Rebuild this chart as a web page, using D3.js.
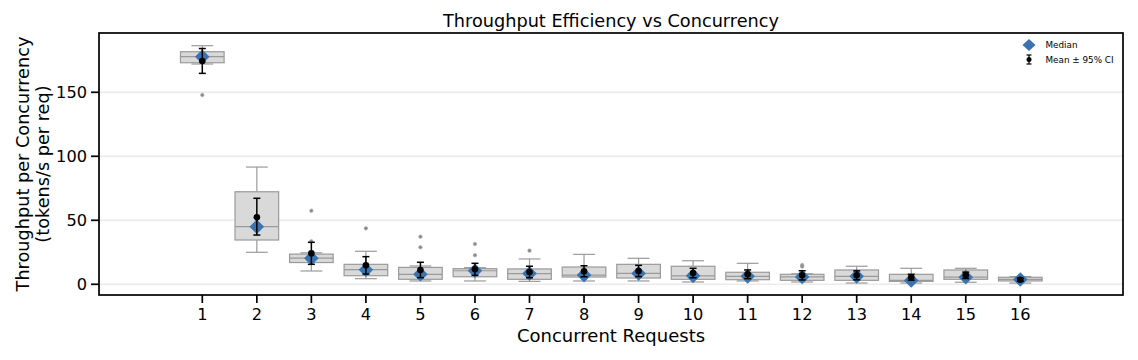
<!DOCTYPE html>
<html><head><meta charset="utf-8">
<script src="https://cdn.jsdelivr.net/npm/d3@7/dist/d3.min.js"></script>
<style>body{margin:0;background:#fff;}svg{display:block;font-family:"DejaVu Sans",sans-serif;}</style>
</head><body>
<svg id="c" width="1138" height="360"></svg>
<script>
const categories = ["1","2","3","4","5","6","7","8","9","10","11","12","13","14","15","16"];
const q1        = [173.1, 34.6, 17.0,  6.7,  3.9,  5.9,  3.9,  5.7,  4.9,  3.9,  3.6,  3.1,  3.1,  2.3,  3.9,  2.6];
const medians   = [177.8, 45.0, 20.4, 11.4,  7.8, 10.6,  8.4,  7.2,  8.5,  6.6,  6.2,  5.8,  6.2,  3.0,  5.6,  3.8];
const q3        = [181.7, 72.3, 23.6, 15.6, 13.2, 12.2, 12.0, 13.5, 15.6, 14.1,  9.4,  7.8, 11.2,  7.8, 11.2,  5.5];
const whiskLo   = [172.1, 25.0, 10.4,  4.4,  2.6,  2.6,  2.3,  2.6,  2.6,  1.8,  2.6,  1.8,  1.0,  1.0,  1.6,  1.0];
const whiskHi   = [186.4, 91.6, 24.6, 25.8, 14.3, 13.0, 19.8, 23.4, 20.3, 18.4, 16.4,  8.2, 14.1, 12.5, 12.5,  6.0];
const outliers  = [[147.9],[],[57.5,33.6],[43.7],[37.2,28.9],[31.5,22.7],[26.3],[],[],[],[],[15.1,13.9],[],[],[],[]];
const means     = [174.5, 52.3, 24.2, 14.8, 11.2, 11.7,  9.6, 10.2, 10.4,  8.8,  7.8,  7.0,  7.0,  5.5,  7.0,  3.6];
const ciLo      = [164.8, 38.5, 15.6,  8.0,  5.2,  7.0,  5.1,  5.9,  6.0,  5.1,  4.4,  3.4,  3.5,  3.2,  4.5,  2.4];
const ciHi      = [184.2, 67.2, 32.8, 21.6, 17.2, 16.4, 14.1, 14.5, 14.8, 12.5, 11.2, 10.6, 10.5,  7.8,  9.5,  4.8];
const yTicks    = [0, 50, 100, 150];

const svg = d3.select("#c");
const L = 99, R = 1123, T = 33, B = 295;
const x = d3.scaleLinear().domain([0, 15]).range([202.3, 1020.3]);
const y = d3.scaleLinear().domain([0, 150]).range([284.3, 92.3]);
const band = x(1) - x(0);
const bw = band * 0.8;
const blue = "#3a74b0";
const edge = "#9a9a9a";

// gridlines
svg.append("g").selectAll("line").data(yTicks).join("line")
  .attr("x1", L).attr("x2", R).attr("y1", d => y(d)).attr("y2", d => y(d))
  .attr("stroke", "#ebebeb").attr("stroke-width", 1.5);

const g = svg.append("g");
categories.forEach((c, i) => {
  const cx = x(i);
  g.append("line").attr("x1", cx).attr("x2", cx).attr("y1", y(q3[i])).attr("y2", y(whiskHi[i])).attr("stroke", edge).attr("stroke-width", 1.2);
  g.append("line").attr("x1", cx).attr("x2", cx).attr("y1", y(q1[i])).attr("y2", y(whiskLo[i])).attr("stroke", edge).attr("stroke-width", 1.2);
  [whiskHi[i], whiskLo[i]].forEach(v => {
    g.append("line").attr("x1", cx - bw / 4).attr("x2", cx + bw / 4).attr("y1", y(v)).attr("y2", y(v)).attr("stroke", edge).attr("stroke-width", 1.2);
  });
  g.append("rect").attr("x", cx - bw / 2).attr("width", bw)
    .attr("y", y(q3[i])).attr("height", Math.max(1, y(q1[i]) - y(q3[i])))
    .attr("fill", "#d9d9d9").attr("stroke", edge).attr("stroke-width", 1.2);
  g.append("line").attr("x1", cx - bw / 2).attr("x2", cx + bw / 2).attr("y1", y(medians[i])).attr("y2", y(medians[i])).attr("stroke", edge).attr("stroke-width", 1.2);
  outliers[i].forEach(v => {
    g.append("circle").attr("cx", cx).attr("cy", y(v)).attr("r", 1.8).attr("fill", "#8a8a8a").attr("stroke", "#b0b0b0").attr("stroke-width", 0.6);
  });
});

// median diamonds
const dsz = 7.3;
g.append("g").selectAll("path").data(medians).join("path")
  .attr("d", (d, i) => `M${x(i)},${y(d) - dsz}L${x(i) + dsz},${y(d)}L${x(i)},${y(d) + dsz}L${x(i) - dsz},${y(d)}Z`)
  .attr("fill", blue);

// mean ± CI
const eg = g.append("g");
means.forEach((m, i) => {
  const cx = x(i);
  eg.append("line").attr("x1", cx).attr("x2", cx).attr("y1", y(ciLo[i])).attr("y2", y(ciHi[i])).attr("stroke", "#000").attr("stroke-width", 1.5);
  [ciLo[i], ciHi[i]].forEach(v => {
    eg.append("line").attr("x1", cx - 3.5).attr("x2", cx + 3.5).attr("y1", y(v)).attr("y2", y(v)).attr("stroke", "#000").attr("stroke-width", 1.5);
  });
  eg.append("circle").attr("cx", cx).attr("cy", y(m)).attr("r", 3.3).attr("fill", "#000");
});

// frame
svg.append("rect").attr("x", L).attr("y", T).attr("width", R - L).attr("height", B - T)
  .attr("fill", "none").attr("stroke", "#000").attr("stroke-width", 1.7);

const ya = svg.append("g");
yTicks.forEach(t => {
  ya.append("line").attr("x1", L - 8).attr("x2", L).attr("y1", y(t)).attr("y2", y(t)).attr("stroke", "#000").attr("stroke-width", 1.7);
  ya.append("text").attr("x", L - 12).attr("y", y(t)).attr("dy", "0.36em").attr("text-anchor", "end")
    .attr("font-size", 16.2).text(t);
});
const xa = svg.append("g");
categories.forEach((c, i) => {
  xa.append("line").attr("x1", x(i)).attr("x2", x(i)).attr("y1", B).attr("y2", B + 8).attr("stroke", "#000").attr("stroke-width", 1.7);
  xa.append("text").attr("x", x(i)).attr("y", 320).attr("text-anchor", "middle").attr("font-size", 16.2).text(c);
});

svg.append("text").attr("x", (L + R) / 2).attr("y", 27).attr("text-anchor", "middle").attr("font-size", 17.7).text("Throughput Efficiency vs Concurrency");
svg.append("text").attr("x", (L + R) / 2).attr("y", 342).attr("text-anchor", "middle").attr("font-size", 18).text("Concurrent Requests");
const yl = svg.append("text").attr("transform", `translate(0,${(T + B) / 2}) rotate(-90)`).attr("text-anchor", "middle").attr("font-size", 17.7);
yl.append("tspan").attr("x", 0).attr("y", 29).text("Throughput per Concurrency");
yl.append("tspan").attr("x", 0).attr("y", 48.5).text("(tokens/s per req)");

// legend
const lg = svg.append("g");
lg.append("path").attr("d", `M1029,39L1035.5,45L1029,51L1022.5,45Z`).attr("fill", blue);
lg.append("text").attr("x", 1045.5).attr("y", 45).attr("dy", "0.35em").attr("font-size", 8.8).text("Median");
lg.append("line").attr("x1", 1029).attr("x2", 1029).attr("y1", 55).attr("y2", 64).attr("stroke", "#000").attr("stroke-width", 1.2);
[55, 64].forEach(v => lg.append("line").attr("x1", 1026.5).attr("x2", 1031.5).attr("y1", v).attr("y2", v).attr("stroke", "#000").attr("stroke-width", 1.2));
lg.append("circle").attr("cx", 1029).attr("cy", 59.5).attr("r", 2.5).attr("fill", "#000");
lg.append("text").attr("x", 1045.5).attr("y", 59.5).attr("dy", "0.35em").attr("font-size", 8.8).text("Mean ± 95% CI");
</script>
</body></html>
